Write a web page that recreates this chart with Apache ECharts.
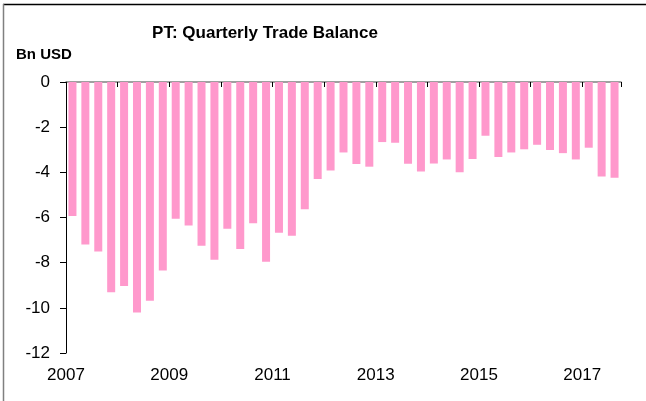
<!DOCTYPE html>
<html>
<head>
<meta charset="utf-8">
<script src="https://cdn.jsdelivr.net/npm/echarts@6/dist/echarts.min.js"></script>
<style>
html,body{margin:0;padding:0;background:#fff;}
#chart{width:646px;height:401px;}
</style>
</head>
<body>
<div id="chart"></div>
<script>
const quarters = [
 '2007Q1','2007Q2','2007Q3','2007Q4','2008Q1','2008Q2','2008Q3','2008Q4',
 '2009Q1','2009Q2','2009Q3','2009Q4','2010Q1','2010Q2','2010Q3','2010Q4',
 '2011Q1','2011Q2','2011Q3','2011Q4','2012Q1','2012Q2','2012Q3','2012Q4',
 '2013Q1','2013Q2','2013Q3','2013Q4','2014Q1','2014Q2','2014Q3','2014Q4',
 '2015Q1','2015Q2','2015Q3','2015Q4','2016Q1','2016Q2','2016Q3','2016Q4',
 '2017Q1','2017Q2','2017Q3'
];
const tradeBalance = [
 -5.93,-7.20,-7.51,-9.31,-9.03,-10.21,-9.69,-8.35,
 -6.06,-6.35,-7.25,-7.87,-6.50,-7.39,-6.25,-7.96,
 -6.68,-6.81,-5.64,-4.30,-3.92,-3.12,-3.63,-3.75,
 -2.66,-2.69,-3.62,-3.96,-3.61,-3.43,-4.00,-3.41,
 -2.38,-3.32,-3.12,-2.98,-2.78,-3.01,-3.15,-3.43,
 -2.91,-4.18,-4.24
];
const firstYear = 2007;
const yearLabelStep = 2;
const yTicks = { min: -12, max: 0, step: 2 };
const titleText = 'PT: Quarterly Trade Balance';
const unitText = 'Bn USD';

const chart = echarts.init(document.getElementById('chart'), null, {renderer: 'canvas'});
const FONT = '"Liberation Sans", Arial, sans-serif';
chart.setOption({
  animation: false,
  backgroundColor: '#ffffff',
  grid: { left: 66, top: 82, width: 555, height: 271, containLabel: false },
  xAxis: [
    {
      type: 'category',
      data: quarters,
      position: 'top',
      boundaryGap: true,
      axisLine: { show: true, lineStyle: { color: '#808080', width: 1.5 } },
      axisTick: { show: true, inside: true, length: 5, interval: 3, lineStyle: { color: '#000', width: 1 } },
      axisLabel: { show: false },
      splitLine: { show: false }
    },
    {
      type: 'value',
      position: 'bottom',
      min: 0,
      max: quarters.length / 4,
      interval: yearLabelStep,
      axisLine: { show: false },
      axisTick: { show: false },
      splitLine: { show: false },
      axisLabel: {
        show: true,
        showMaxLabel: false,
        margin: 14,
        color: '#000',
        fontFamily: FONT,
        fontSize: 17,
        formatter: v => (Number.isInteger(v) ? String(firstYear + v) : '')
      }
    }
  ],
  yAxis: {
    type: 'value',
    min: yTicks.min,
    max: yTicks.max,
    interval: yTicks.step,
    axisLine: { show: true, lineStyle: { color: '#000', width: 1 } },
    axisTick: { show: true, length: 6, lineStyle: { color: '#000' } },
    splitLine: { show: false },
    axisLabel: { margin: 16, color: '#000', fontFamily: FONT, fontSize: 17 }
  },
  series: [{
    type: 'bar',
    xAxisIndex: 0,
    data: tradeBalance,
    barWidth: 8,
    itemStyle: { color: '#FF99CC' }
  }],
  graphic: [
    { type: 'text', left: 'auto', x: 265, y: 33, style: { text: titleText, fontFamily: FONT, fontSize: 17, fontWeight: 'bold', fill: '#000', textAlign: 'center', textVerticalAlign: 'middle' } },
    { type: 'text', x: 16, y: 55, style: { text: unitText, fontFamily: FONT, fontSize: 15, fontWeight: 'bold', fill: '#000', textAlign: 'left', textVerticalAlign: 'middle' } },
    { type: 'line', shape: { x1: 3, y1: 4.5, x2: 646, y2: 4.5 }, style: { stroke: '#000', lineWidth: 1.5 } },
    { type: 'line', shape: { x1: 3.5, y1: 4, x2: 3.5, y2: 401 }, style: { stroke: '#808080', lineWidth: 1.5 } }
  ]
});
</script>
</body>
</html>
